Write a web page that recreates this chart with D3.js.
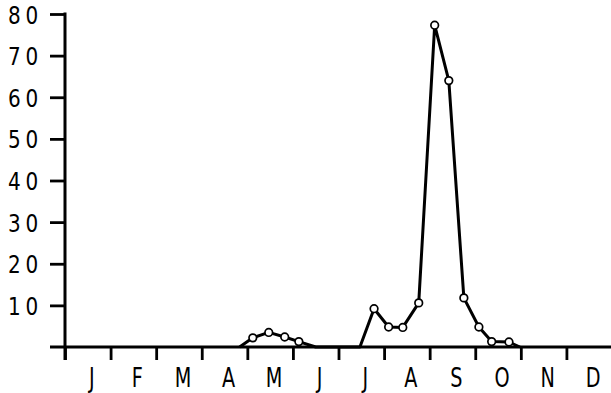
<!DOCTYPE html>
<html lang="en">
<head>
<meta charset="UTF-8">
<script src="https://cdn.jsdelivr.net/npm/d3@7"></script>
<style>
body { margin: 0; background: #fff; }
.axis text {
    font-family: "DejaVu Sans", sans-serif;
    fill: #000;
}
.axis line { stroke: #000; stroke-width: 2.8px; }
.axis path { display: none; }
.series { fill: none; stroke: #000; stroke-width: 3px; stroke-linejoin: round; }
.dot { fill: #fff; stroke: #000; stroke-width: 1.7px; }
</style>
</head>
<body>
<div id="chart"></div>
<script>
const months = ["J", "F", "M", "A", "M", "J", "J", "A", "S", "O", "N", "D"];
const yTicks = [10, 20, 30, 40, 50, 60, 70, 80];
// position in months from 1 January, value
const times = [3.83, 4.12, 4.47, 4.82, 5.13, 5.5, 6.47, 6.78, 7.1, 7.41, 7.76, 8.11, 8.42, 8.75, 9.08, 9.36, 9.74, 9.98];
const values = [0, 2.2, 3.5, 2.4, 1.3, 0, 0, 9.2, 4.8, 4.7, 10.6, 77.3, 64, 11.8, 4.8, 1.3, 1.2, 0];

const width = 611, height = 393;
const svg = d3.select("#chart").append("svg")
    .attr("width", width)
    .attr("height", height);

const x = d3.scaleLinear().domain([0, 12]).range([65, 612]);
const y = d3.scaleLinear().domain([0, 80]).range([347, 14]);
const band = d3.scaleBand().domain(d3.range(12)).range([65, 612]);

// Y axis (labels drawn narrow, like stencil lettering)
const gy = svg.append("g")
    .attr("class", "axis")
    .attr("transform", "translate(65,0)")
    .call(d3.axisLeft(y).tickValues(yTicks).tickSize(15).tickFormat(d => d));
gy.selectAll("text")
    .attr("x", null)
    .attr("dy", null)
    .attr("font-size", 25)
    .attr("letter-spacing", 6)
    .attr("text-anchor", "end")
    .attr("transform", "translate(-22,9) scale(0.8,1)");

// X axis ticks
svg.append("g")
    .attr("class", "axis")
    .attr("transform", `translate(0,${y(0)})`)
    .call(d3.axisBottom(x).tickValues(d3.range(12)).tickSize(13).tickFormat(""));

// X labels
const gx = svg.append("g")
    .attr("class", "axis")
    .attr("transform", `translate(0,${y(0)})`)
    .call(d3.axisBottom(band).tickSize(0).tickFormat(i => months[i]));
gx.selectAll("text")
    .attr("y", null)
    .attr("dy", null)
    .attr("font-size", 26)
    .attr("text-anchor", "middle")
    .attr("transform", "translate(4,40) scale(0.74,1)");

// axis lines
svg.append("line")
    .attr("x1", 65).attr("x2", 65)
    .attr("y1", y(80) - 1.4).attr("y2", 360)
    .attr("stroke", "#000").attr("stroke-width", 3);
svg.append("line")
    .attr("x1", 50).attr("x2", 611)
    .attr("y1", y(0)).attr("y2", y(0))
    .attr("stroke", "#000").attr("stroke-width", 3);

const pts = times.map((t, i) => [t, values[i]]);
const line = d3.line().x(d => x(d[0])).y(d => y(d[1]));

svg.append("path")
    .attr("class", "series")
    .attr("d", line(pts));

svg.selectAll(".dot")
    .data(pts.filter(d => d[1] > 0))
    .enter().append("circle")
    .attr("class", "dot")
    .attr("cx", d => x(d[0]))
    .attr("cy", d => y(d[1]))
    .attr("r", 3.8);
</script>
</body>
</html>
